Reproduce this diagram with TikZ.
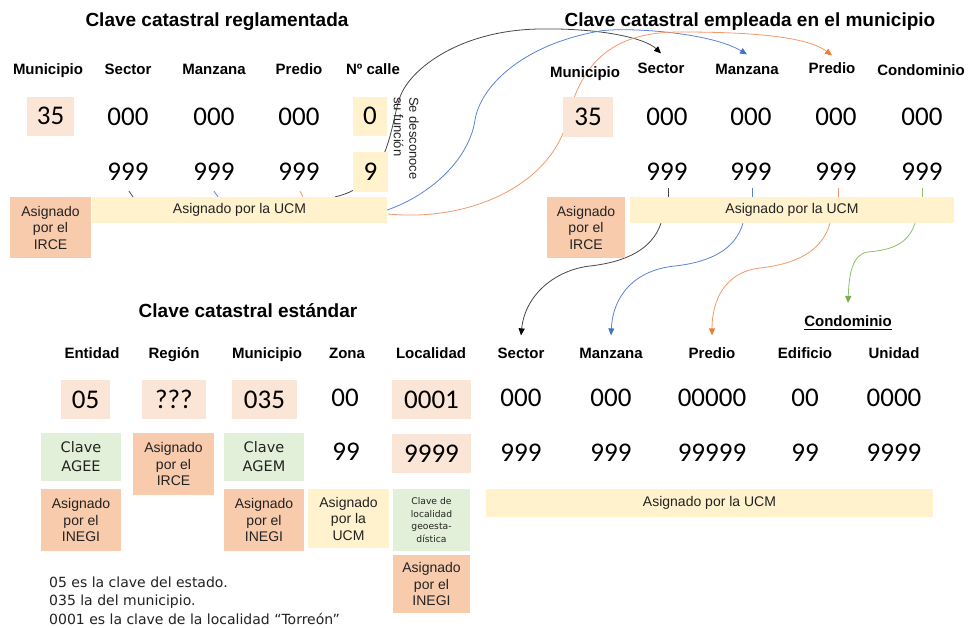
\documentclass[tikz,border=0pt]{standalone}
\usepackage{fontspec}
\setmainfont{Liberation Sans}
\newfontfamily\digf{Carlito}
\newfontfamily\dvf{DejaVu Sans}
\usetikzlibrary{arrows.meta,calc}
\pgfdeclarelayer{bg}
\pgfdeclarelayer{paper}
\pgfsetlayers{paper,bg,main}
\definecolor{peachL}{HTML}{FBE5D6}
\definecolor{orgM}{HTML}{F8CBAD}
\definecolor{yelL}{HTML}{FFF2CC}
\definecolor{grnL}{HTML}{E2F0D9}
\definecolor{txt}{HTML}{222222}
\definecolor{lnK}{HTML}{484848}
\definecolor{lnB}{HTML}{5B84D0}
\definecolor{arB}{HTML}{4472C4}
\definecolor{lnO}{HTML}{F09A6A}
\definecolor{arO}{HTML}{ED7D31}
\definecolor{lnG}{HTML}{8CC06A}
\definecolor{arG}{HTML}{70AD47}
\begin{document}
\begin{tikzpicture}[x=1pt,y=-1pt,
  ttl/.style={font=\fontsize{19}{22}\selectfont\bfseries,inner sep=0pt,text height=13.6pt,text depth=0pt},
  hdr/.style={font=\fontsize{15}{18}\selectfont\bfseries,inner sep=0pt,text height=10.8pt,text depth=0pt},
  num/.style={font=\digf\fontsize{27}{30}\selectfont,inner sep=0pt,text height=17pt,text depth=0pt},
  bx/.style={inner sep=0pt,align=center,font=\fontsize{14}{16.5}\selectfont,text=txt},
  bxd/.style={inner sep=0pt,align=center,font=\dvf\fontsize{14.5}{19}\selectfont,text=txt},
  note/.style={font=\dvf\fontsize{14}{19}\selectfont,inner sep=0pt,anchor=base west,text=txt},
  cK/.style={draw=lnK,line width=0.8pt,-{Triangle[length=7pt,width=6pt,color=black]}},
  cB/.style={draw=lnB,line width=0.8pt,-{Triangle[length=7pt,width=6pt,color=arB]}},
  cO/.style={draw=lnO,line width=0.8pt,-{Triangle[length=7pt,width=6pt,color=arO]}},
  cG/.style={draw=lnG,line width=0.8pt,-{Triangle[length=7pt,width=6pt,color=arG]}},
  tk/.style={line width=0.8pt}
]
\begin{pgfonlayer}{paper}
\fill[white] (0,0) rectangle (968,628);
\end{pgfonlayer}
\useasboundingbox (0,0) rectangle (968,628);

% ---------- titles
\node[ttl] (t1) at (217,20) {Clave catastral reglamentada};
\node[ttl] (t2) at (750,20) {Clave catastral empleada en el municipio};
\node[ttl] (t3) at (248,311) {Clave catastral estándar};

% ---------- top-left block
\node[hdr] (munL) at (48,69) {Municipio};
\node[hdr] (secL) at (128,69) {Sector};
\node[hdr] (manL) at (214,69) {Manzana};
\node[hdr] (preL) at (299,69) {Predio};
\node[hdr] (calL) at (373,69) {Nº calle};

\node[fill=peachL,minimum width=47pt,minimum height=39pt,inner sep=0pt] (bM35) at (50.5,116.5) {};
\node[num] at (bM35) {35};
\node[num] (zL1) at (128,117) {000};
\node[num] (zL2) at (214,117) {000};
\node[num] (zL3) at (299,117) {000};
\node[fill=yelL,minimum width=34pt,minimum height=39pt,inner sep=0pt] (b0) at (370,116.5) {};
\node[num] at (b0) {0};
\node[num] (nL1) at (128,172) {999};
\node[num] (nL2) at (214,172) {999};
\node[num] (nL3) at (299,172) {999};
\node[fill=yelL,minimum width=35pt,minimum height=40pt,inner sep=0pt] (b9) at (370.5,172) {};
\node[num] at (b9) {9};

\node[rotate=-90,anchor=north west,align=left,inner sep=0pt,font=\fontsize{13}{15.5}\selectfont,text=txt] (sdc) at (419,97) {Se desconoce\\su función};

\node[bx,fill=orgM,minimum width=81pt,minimum height=61pt] (irceL) at (50.5,227.5) {Asignado\\por el\\IRCE};
\node[bx,fill=yelL,minimum width=295pt,minimum height=26pt] (ucmL) at (239.5,210) {Asignado por la UCM};

% ---------- top-right block
\node[hdr] (munR) at (585,72) {Municipio};
\node[hdr] (secR) at (661,68) {Sector};
\node[hdr] (manR) at (747,69) {Manzana};
\node[hdr] (preR) at (832,68) {Predio};
\node[hdr] (conR) at (921,70) {Condominio};

\node[fill=peachL,minimum width=50pt,minimum height=40pt,inner sep=0pt] (bR35) at (588,117) {};
\node[num] at (bR35) {35};
\node[num] (zR1) at (667,117) {000};
\node[num] (zR2) at (751,117) {000};
\node[num] (zR3) at (836,117) {000};
\node[num] (zR4) at (922,117) {000};
\node[num] (nR1) at (667,172) {999};
\node[num] (nR2) at (751,172) {999};
\node[num] (nR3) at (836,172) {999};
\node[num] (nR4) at (922,172) {999};

\node[bx,fill=orgM,minimum width=78pt,minimum height=61pt] (irceR) at (586,227.5) {Asignado\\por el\\IRCE};
\node[bx,fill=yelL,minimum width=324pt,minimum height=26pt] (ucmR) at (792,210) {Asignado por la UCM};

% ---------- bottom block
\node[hdr] (entB) at (92,353) {Entidad};
\node[hdr] (regB) at (174,353) {Región};
\node[hdr] (munB) at (267,353) {Municipio};
\node[hdr] (zonB) at (347,353) {Zona};
\node[hdr] (locB) at (431,353) {Localidad};
\node[hdr] (secB) at (521,353) {Sector};
\node[hdr] (manB) at (611,353) {Manzana};
\node[hdr] (preB) at (712,353) {Predio};
\node[hdr] (ediB) at (805,353) {Edificio};
\node[hdr] (uniB) at (894,353) {Unidad};
\node[hdr] (condU) at (848,321) {Condominio};
\draw[line width=1.1pt] ($(condU.south west)+(0,2.5)$) -- ($(condU.south east)+(0,2.5)$);

\node[fill=peachL,minimum width=49pt,minimum height=39pt,inner sep=0pt] (b05) at (85.5,399.5) {};
\node[num] at (b05) {05};
\node[fill=peachL,minimum width=64pt,minimum height=39pt,inner sep=0pt] (bQ) at (174,399.5) {};
\node[num] at (bQ) {???};
\node[fill=peachL,minimum width=65pt,minimum height=39pt,inner sep=0pt] (b035) at (264.5,399.5) {};
\node[num] at (b035) {035};
\node[num] (z00) at (345,398) {00};
\node[fill=peachL,minimum width=79pt,minimum height=39pt,inner sep=0pt] (b0001) at (431.5,399.5) {};
\node[num] at (b0001) {0001};
\node[num] (zB1) at (521,398) {000};
\node[num] (zB2) at (611,398) {000};
\node[num] (zB3) at (712,398) {00000};
\node[num] (zB4) at (805,398) {00};
\node[num] (zB5) at (894,398) {0000};

\node[bxd,fill=grnL,minimum width=80pt,minimum height=48pt] (agee) at (81,457) {Clave\\AGEE};
\node[bx,fill=orgM,minimum width=81pt,minimum height=62pt] (irceB) at (173.5,464) {Asignado\\por el\\IRCE};
\node[bxd,fill=grnL,minimum width=80pt,minimum height=48pt] (agem) at (264,457) {Clave\\AGEM};
\node[num] (n99) at (346,452) {99};
\node[fill=peachL,minimum width=79pt,minimum height=39pt,inner sep=0pt] (b9999) at (431.5,453.5) {};
\node[num] at (b9999) {9999};
\node[num] (nB1) at (521,453) {999};
\node[num] (nB2) at (611,453) {999};
\node[num] (nB3) at (712,453) {99999};
\node[num] (nB4) at (805,453) {99};
\node[num] (nB5) at (894,453) {9999};

\node[bx,fill=orgM,minimum width=80pt,minimum height=62pt] (inegi1) at (81,520) {Asignado\\por el\\INEGI};
\node[bx,fill=orgM,minimum width=80pt,minimum height=62pt] (inegi2) at (264,520) {Asignado\\por el\\INEGI};
\node[bx,fill=yelL,minimum width=81pt,minimum height=59pt] (ucmS) at (348.5,518.5) {Asignado\\por la\\UCM};
\node[fill=grnL,minimum width=77pt,minimum height=62pt,inner sep=0pt,align=center,font=\dvf\fontsize{9.2}{12.8}\selectfont,text=txt] (geo) at (431.5,520) {Clave de\\localidad\\geoesta-\\dística};
\node[bx,fill=orgM,minimum width=77pt,minimum height=58pt] (inegi3) at (431.5,584) {Asignado\\por el\\INEGI};
\node[bx,fill=yelL,minimum width=447pt,minimum height=28pt] (ucmB) at (709.5,503) {Asignado por la UCM};

\node[note] (nt1) at (49,587) {05 es la clave del estado.};
\node[note] (nt2) at (49,605.5) {035 la del municipio.};
\node[note] (nt3) at (49,624) {0001 es la clave de la localidad “Torreón”};

% ---------- connectors (behind the boxes)
\begin{pgfonlayer}{bg}
\draw[cK] ($(ucmL.north east)+(-52,0)$) .. controls (390,185) and (390,125) .. (400,97)
   .. controls (410,69) and (460,30) .. (540,29)
   .. controls (600,28) and (645,38) .. ([yshift=9pt]secR.north);
\draw[cB] (ucmL.east) .. controls (430,195) and (469,160) .. (475,120)
   .. controls (480,88) and (520,45) .. (600,31)
   .. controls (625,27) and (710,32) .. ([yshift=9pt]manR.north);
\draw[cO] ($(ucmL.east)+(1,4)$) .. controls (470,222) and (552,185) .. (568,118)
   .. controls (584,51) and (625,32) .. (680,32)
   .. controls (740,32) and (805,35) .. ([yshift=7pt]preR.north);

\draw[cK] (ucmR.south -| secR) .. controls (652,250) and (625,262) .. (590,266)
   .. controls (555,270) and (525,295) .. ([yshift=12pt]secB.north);
\draw[cB] ($(ucmR.south -| manR)+(-4,0)$) .. controls (735,250) and (710,262) .. (675,266)
   .. controls (635,270) and (613,295) .. ([yshift=12pt]manB.north);
\draw[cO] ($(ucmR.south -| preR)+(-2,0)$) .. controls (822,252) and (795,264) .. (760,268)
   .. controls (725,272) and (712,300) .. ([yshift=12pt]preB.north);
\draw[cG] ($(ucmR.south -| conR)+(-6,0)$) .. controls (908,245) and (890,250) .. (868,252)
   .. controls (852,254) and (849,275) .. ([yshift=12.5pt]condU.north);

% small ticks from the 999 digits to the UCM bars
\draw[tk,draw=lnK] ($(nL1.south)+(1,10.5)$) -- ($(ucmL.north -| nL1)+(5,0)$);
\draw[tk,draw=lnB] ($(nL2.south)+(0,10.5)$) -- ($(ucmL.north -| nL2)+(4,0)$);
\draw[tk,draw=lnO] ($(nL3.south)+(1,10.5)$) -- ($(ucmL.north -| nL3)+(4,0)$);
\draw[tk,draw=lnK] ($(nR1.south)+(1,7.5)$) -- ($(ucmR.north -| nR1)+(1,0)$);
\draw[tk,draw=lnB] ($(nR2.south)+(1,7.5)$) -- ($(ucmR.north -| nR2)+(1,0)$);
\draw[tk,draw=lnO] ($(nR3.south)+(2,7.5)$) -- ($(ucmR.north -| nR3)+(2,0)$);
\draw[tk,draw=lnG] ($(nR4.south)+(0,7.5)$) -- ($(ucmR.north -| nR4)+(0,0)$);
\end{pgfonlayer}
\end{tikzpicture}
\end{document}
